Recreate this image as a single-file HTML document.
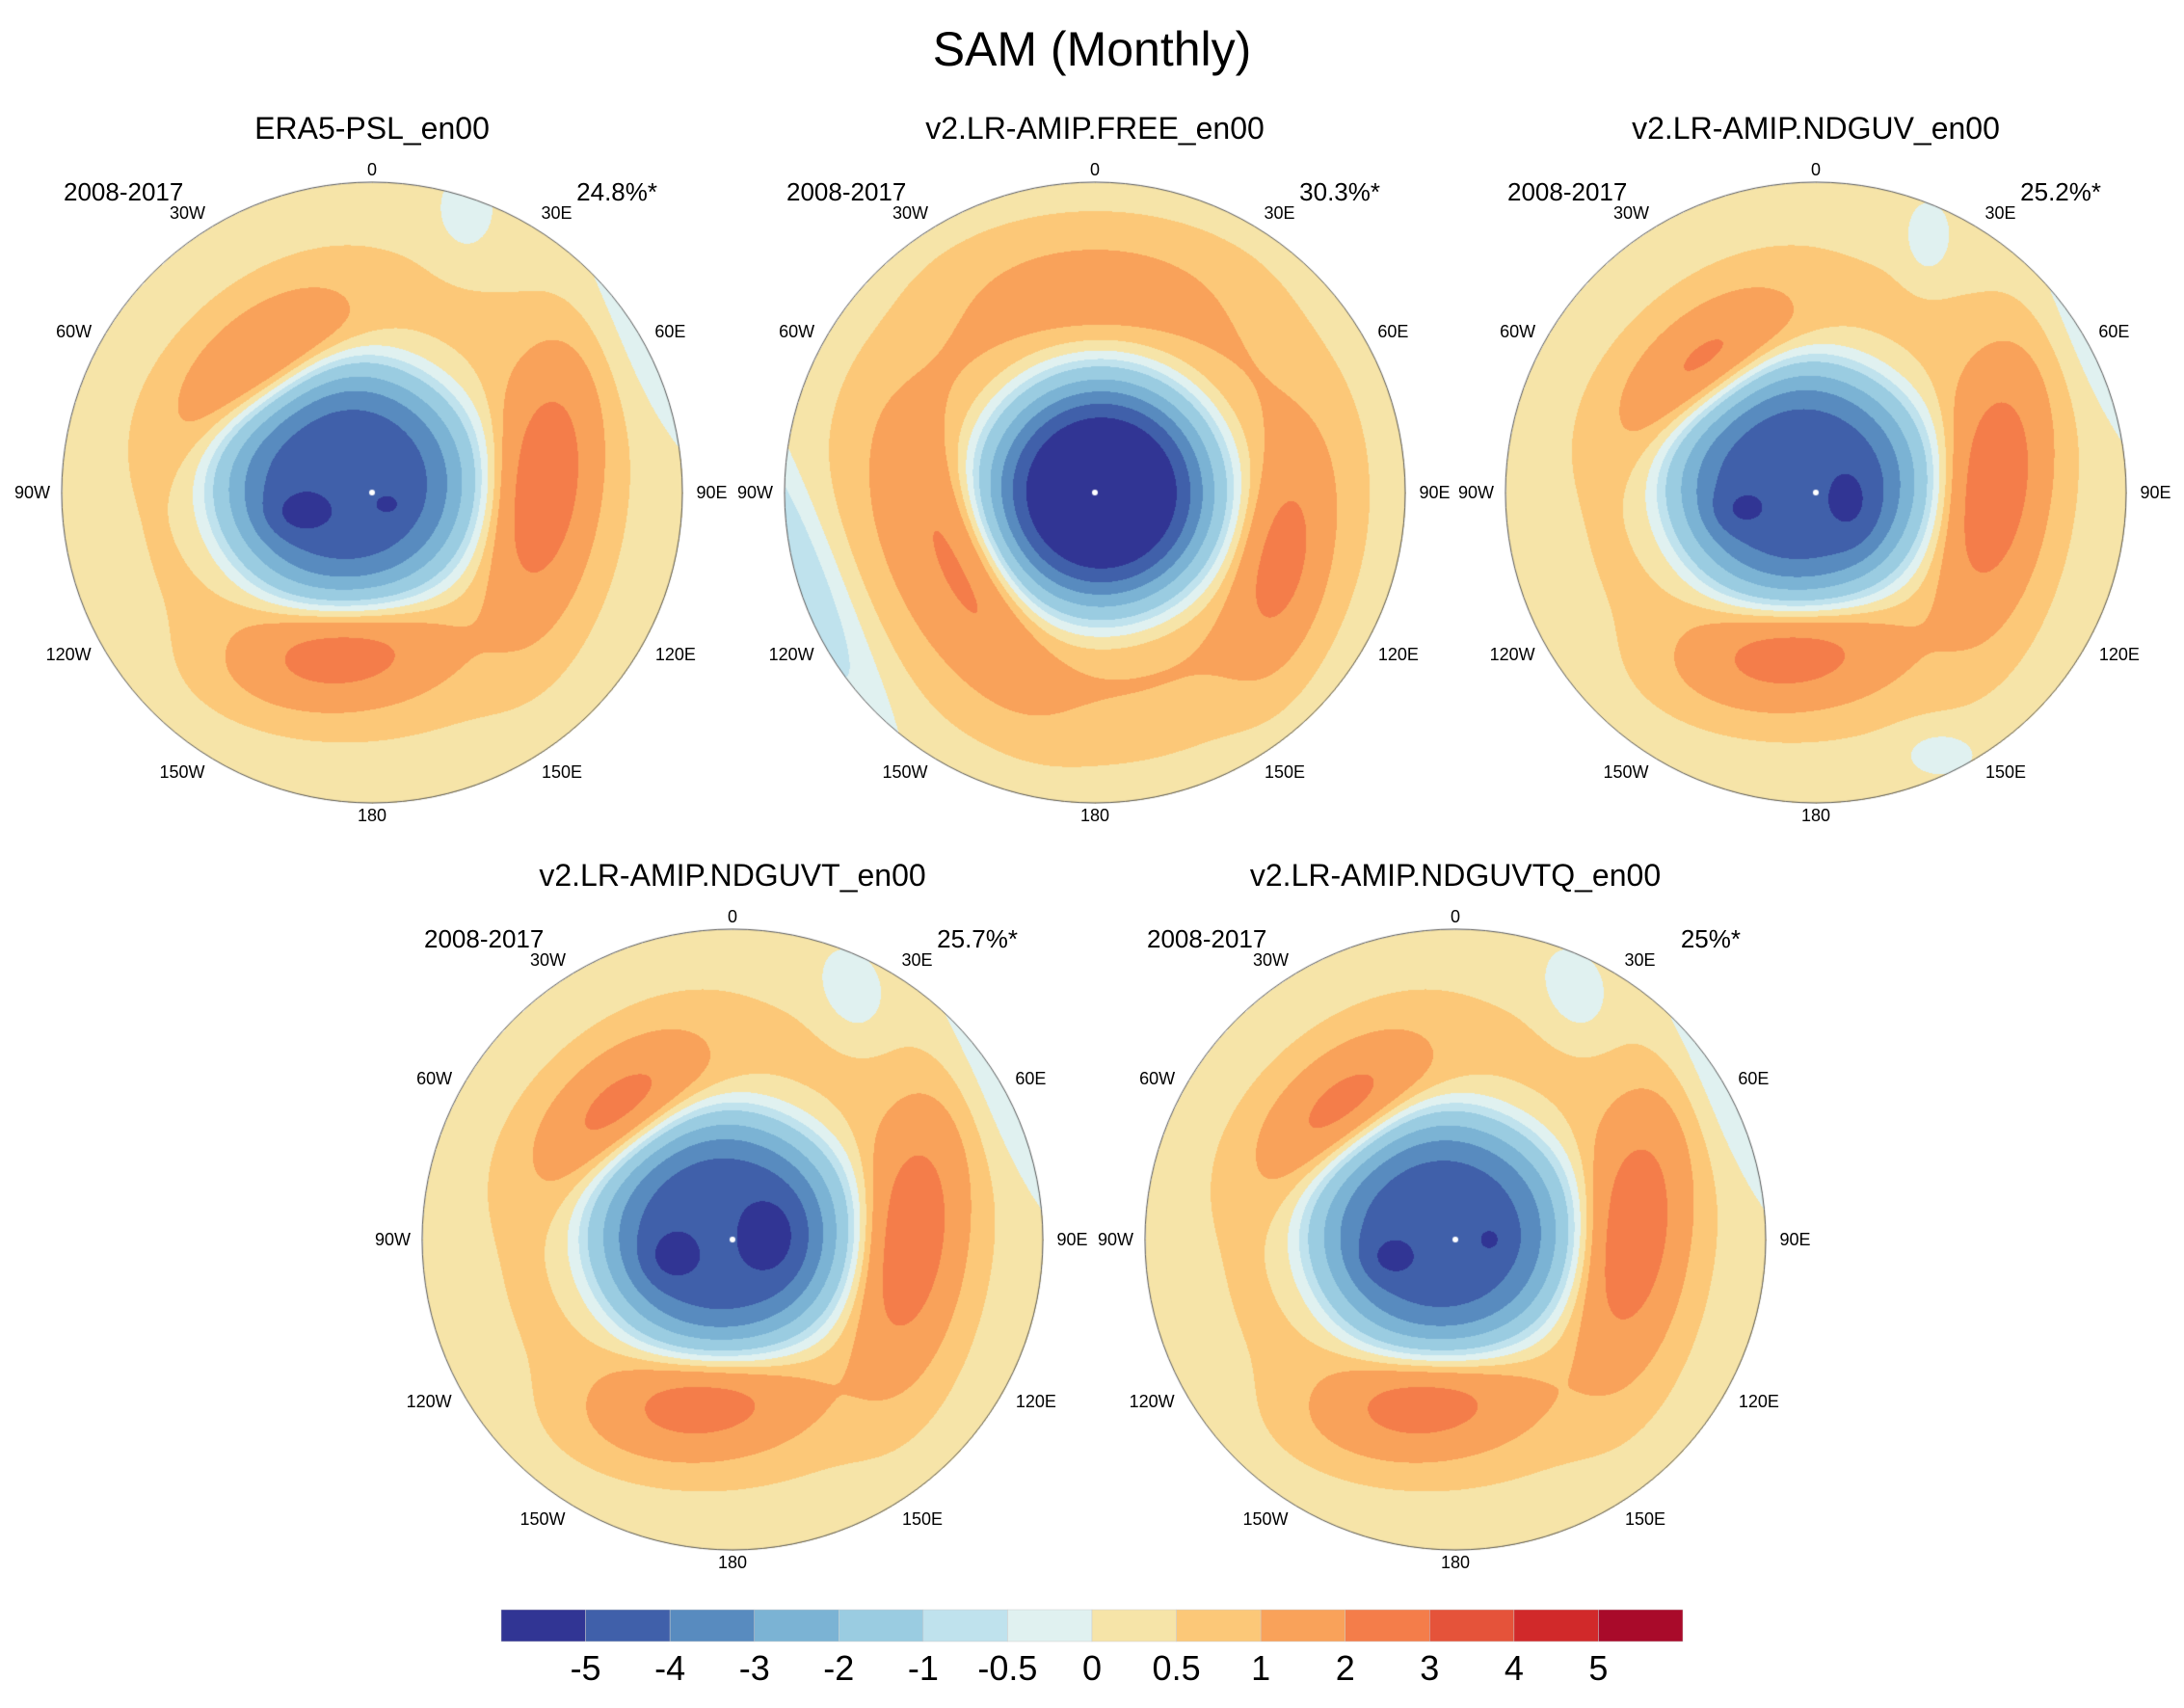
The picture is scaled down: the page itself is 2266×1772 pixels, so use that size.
<!DOCTYPE html>
<html><head><meta charset="utf-8">
<style>
html,body{margin:0;padding:0;background:#fff;}
#root{position:relative;width:2266px;height:1772px;overflow:hidden;font-family:"Liberation Sans",sans-serif;color:#000;}
.t{position:absolute;white-space:nowrap;}
canvas{position:absolute;}
</style></head>
<body>
<div id="root">
<div class="t" style="left:0;width:2266px;text-align:center;top:22px;font-size:50px;">SAM (Monthly)</div>
<svg id="cb" width="2266" height="1772" style="position:absolute;left:0;top:0;pointer-events:none"></svg>
</div>
<script>
// ---- data ----
const levels = [-5,-4,-3,-2,-1,-0.5,0,0.5,1,2,3,4,5];
const levelLabels = ["-5","-4","-3","-2","-1","-0.5","0","0.5","1","2","3","4","5"];
const colors = ["#313594","#4060aa","#588bbf","#7bb3d4","#9acce1","#bfe2ed","#e0f1f0","#f6e4a8","#fcc878","#f9a25a","#f47d4a","#e5533a","#d1292a","#a90a2a"];
const panelTitles = ["ERA5-PSL_en00","v2.LR-AMIP.FREE_en00","v2.LR-AMIP.NDGUV_en00","v2.LR-AMIP.NDGUVT_en00","v2.LR-AMIP.NDGUVTQ_en00"];
const panelPeriods = ["2008-2017","2008-2017","2008-2017","2008-2017","2008-2017"];
const panelPcts = ["24.8%*","30.3%*","25.2%*","25.7%*","25%*"];
const lonLabels = ["0","30E","60E","90E","120E","150E","180","150W","120W","90W","60W","30W"];
// blobs: [x, y, amplitude, sx, sy, rotDeg, shapeExponent]  (x,y in units of map radius)
const blobs1 = [[-0.09,-0.03,-5.1,0.29,0.27,0,2],[-0.25,0.07,-0.8,0.07,0.05,0,1],[0.06,0.04,-0.4,0.04,0.03,0,1],[-0.35,-0.4,1.9,0.2,0.11,-40,1],[0.55,-0.02,2.3,0.11,0.28,8,1],[-0.1,0.52,2.0,0.22,0.11,-5,1],[0.95,-0.45,-0.8,0.1,0.35,-30,1],[0.3,-0.9,-0.6,0.07,0.1,0,1]];
const blobs2 = [[0.02,0.0,-7.0,0.26,0.26,0,1.6],[-0.42,0.22,1.5,0.1,0.26,-25,1],[0.6,0.22,1.5,0.09,0.22,10,1],[0.0,-0.68,0.4,0.3,0.12,0,1],[-0.98,0.2,-1.3,0.09,0.45,-25,1]];
const blobs3 = [[-0.06,-0.03,-5.1,0.29,0.27,0,2],[-0.26,0.06,-0.7,0.06,0.05,0,1],[0.13,0.05,-0.6,0.06,0.1,0,1],[-0.35,-0.4,1.9,0.2,0.11,-40,1],[0.57,-0.02,2.3,0.11,0.28,8,1],[-0.08,0.52,2.0,0.22,0.11,-5,1],[0.97,-0.4,-0.8,0.08,0.35,-30,1],[0.36,-0.82,-0.8,0.05,0.08,0,1],[0.4,0.84,-0.7,0.08,0.05,0,1]];
const blobs4 = [[-0.04,-0.02,-5.1,0.29,0.27,0,2],[-0.21,0.06,-0.8,0.06,0.06,0,1],[0.14,-0.01,-0.8,0.07,0.1,0,1],[-0.36,-0.42,1.9,0.2,0.11,-40,1],[0.57,0.0,2.3,0.11,0.28,8,1],[-0.1,0.53,2.0,0.22,0.11,-5,1],[0.95,-0.4,-0.8,0.09,0.4,-30,1],[0.38,-0.8,-0.75,0.07,0.1,-20,1]];
const blobs5 = [[-0.05,-0.02,-5.0,0.29,0.27,0,2],[-0.22,0.06,-0.8,0.06,0.05,0,1],[0.12,0.0,-0.5,0.04,0.04,0,1],[-0.36,-0.42,1.9,0.2,0.11,-40,1],[0.57,-0.02,2.3,0.11,0.28,8,1],[-0.1,0.53,2.0,0.22,0.11,-5,1],[0.95,-0.4,-0.8,0.09,0.4,-30,1],[0.38,-0.8,-0.75,0.07,0.1,-20,1]];
const ringAmps = [0.35,0.8,0.35,0.35,0.35];
const panelBlobs = [blobs1,blobs2,blobs3,blobs4,blobs5];
</script>
<script>
const root=document.getElementById('root');
const centers=[[386,511],[1136,511],[1884,511],[760,1286],[1510,1286]];
const R=322;
function field(b,ring,x,y){
  const r=Math.sqrt(x*x+y*y);
  let v=0.25+ring*Math.exp(-((r-0.6)*(r-0.6))/(2*0.18*0.18));
  for(const g of b){
    const a=g[5]*Math.PI/180, dx=x-g[0], dy=y-g[1];
    const u=dx*Math.cos(a)+dy*Math.sin(a), w=-dx*Math.sin(a)+dy*Math.cos(a);
    const D=u*u/(2*g[3]*g[3])+w*w/(2*g[4]*g[4]);
    v+=g[2]*Math.exp(-Math.pow(D,g[6]||1));
  }
  return v;
}
function hex(c){return [parseInt(c.substr(1,2),16),parseInt(c.substr(3,2),16),parseInt(c.substr(5,2),16)];}
const rgb=colors.map(hex);
function colIdx(v){let i=0;while(i<levels.length&&v>=levels[i])i++;return i;}
panelBlobs.forEach((b,p)=>{
  const [cx,cy]=centers[p];
  const cv=document.createElement('canvas');
  
  
  const S=2*R+2;cv.width=S;cv.height=S;
  cv.style.left=(cx-R-1)+'px';cv.style.top=(cy-R-1)+'px';
  const ctx=cv.getContext('2d');const im=ctx.createImageData(S,S);
  for(let j=0;j<S;j++)for(let i=0;i<S;i++){
    const x=(i-R-1)/R,y=(j-R-1)/R;if(x*x+y*y>1)continue;
    const c=rgb[colIdx(field(b,ringAmps[p],x,y))];const k=(j*S+i)*4;
    im.data[k]=c[0];im.data[k+1]=c[1];im.data[k+2]=c[2];im.data[k+3]=255;
  }
  ctx.putImageData(im,0,0);
  ctx.strokeStyle='#555';ctx.lineWidth=1;ctx.beginPath();ctx.arc(R+1,R+1,R,0,2*Math.PI);ctx.stroke();
  ctx.fillStyle='#fff';ctx.beginPath();ctx.arc(R+1,R+1,3,0,2*Math.PI);ctx.fill();
  root.appendChild(cv);
  const mk=(txt,name,css)=>{const d=document.createElement('div');d.className='t';d.textContent=txt;
    
    
    d.style.cssText=css;root.appendChild(d);return d;};
  mk(panelTitles[p],'panel-title','left:'+(cx-400)+'px;width:800px;text-align:center;top:'+(cy-396)+'px;font-size:32px;');
  mk(panelPeriods[p],'period-label','left:'+(cx-320)+'px;top:'+(cy-327)+'px;font-size:26px;');
  mk(panelPcts[p],'variance-label','left:'+(cx+96)+'px;width:200px;text-align:right;top:'+(cy-327)+'px;font-size:26px;');
  lonLabels.forEach((t,k)=>{const a=k*30*Math.PI/180;const s=Math.sin(a),c=Math.cos(a);
    const sx=Math.abs(s)<0.1?0:Math.sign(s)*(14+t.length*5.5);
    const lx=cx+R*s+sx, ly=cy-R*c-c*13;
    mk(t,'lon-label','left:'+(lx-40)+'px;width:80px;text-align:center;top:'+(ly-11)+'px;font-size:18px;line-height:22px;');});
});
// colorbar
const svg=document.getElementById('cb');const NS='http://www.w3.org/2000/svg';
const x0=520,x1=1746,bw=(x1-x0)/colors.length;
colors.forEach((c,i)=>{const r=document.createElementNS(NS,'rect');
  r.setAttribute('x',x0+i*bw);r.setAttribute('y',1670);r.setAttribute('width',bw);r.setAttribute('height',33);
  r.setAttribute('fill',c);r.setAttribute('stroke','#ccc');r.setAttribute('stroke-width','0.5');
  
  
  svg.appendChild(r);});
levelLabels.forEach((t,i)=>{const tx=document.createElementNS(NS,'text');
  tx.setAttribute('x',x0+(i+1)*bw);tx.setAttribute('y',1743);tx.setAttribute('text-anchor','middle');
  tx.setAttribute('font-size','36');tx.setAttribute('font-family','Liberation Sans, sans-serif');
  
  
  tx.textContent=t;svg.appendChild(tx);});
</script>
</body></html>
